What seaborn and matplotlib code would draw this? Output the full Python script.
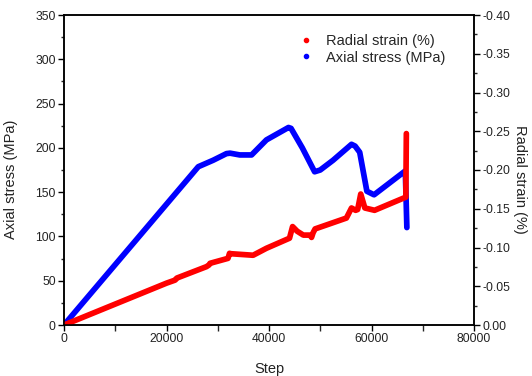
import matplotlib
matplotlib.use("Agg")
import matplotlib.pyplot as plt
import seaborn as sns
from matplotlib.lines import Line2D
from matplotlib.ticker import MultipleLocator, FormatStrFormatter

# axial stress (left axis)
stress_step = [0, 26200, 29100, 31700, 32400, 34300, 36600, 39500, 43800, 44300,
               46500, 48900, 50000, 52500, 56100, 56800, 57700, 59100, 60500,
               66600, 66900]
stress_mpa = [0, 178.7, 186, 193.5, 194, 192, 192, 209, 223, 222,
              200, 173, 175, 186, 204, 202, 195, 151, 147,
              174, 110]

# radial strain (right axis, negative values)
strain_step = [0, 20000, 21700, 22000, 27800, 28300, 28500, 32000, 32300, 32500,
               36900, 39500, 44000, 44600, 45500, 46700, 48000, 48300, 48600, 49000,
               55100, 56100, 56900, 57300, 57900, 58700, 60600, 66700, 66800]
strain_pct = [0, -0.054, -0.058, -0.0605, -0.0753, -0.0775, -0.0796, -0.086, -0.0925, -0.092,
              -0.090, -0.099, -0.112, -0.127, -0.121, -0.116, -0.116, -0.113, -0.119, -0.124,
              -0.138, -0.151, -0.148, -0.149, -0.169, -0.151, -0.148, -0.165, -0.247]

sns.set_style("ticks")
plt.rcParams["font.family"] = ["Liberation Sans", "DejaVu Sans"]
plt.rcParams["axes.unicode_minus"] = False

fig = plt.figure(figsize=(5.32, 3.76), dpi=100)
ax = fig.add_axes([64 / 532, 1 - 325 / 376, 410 / 532, 310 / 376])
ax2 = ax.twinx()

sns.lineplot(x=stress_step, y=stress_mpa, ax=ax, color="#0000ff", linewidth=4.1,
             legend=False, sort=False, estimator=None)
sns.lineplot(x=strain_step, y=strain_pct, ax=ax2, color="#ff0000", linewidth=4.1,
             legend=False, sort=False, estimator=None)
for ln in ax.lines + ax2.lines:
    ln.set_solid_capstyle("round")
    ln.set_solid_joinstyle("round")

ax.set_xlim(0, 80000)
ax.set_ylim(0, 350)
ax2.set_ylim(0, -0.40)

ax.xaxis.set_major_locator(MultipleLocator(20000))
ax.xaxis.set_minor_locator(MultipleLocator(10000))
ax.yaxis.set_major_locator(MultipleLocator(50))
ax.yaxis.set_minor_locator(MultipleLocator(25))
ax2.yaxis.set_major_locator(MultipleLocator(0.05))
ax2.yaxis.set_minor_locator(MultipleLocator(0.025))
ax2.yaxis.set_major_formatter(FormatStrFormatter("%.2f"))

for a in (ax, ax2):
    for s in a.spines.values():
        s.set_linewidth(1.1)
        s.set_color("black")
        s.set_visible(True)
    a.tick_params(which="major", length=4, width=1, labelsize=8.7, colors="black",
                  labelcolor="#222222", pad=2)
    a.tick_params(which="minor", length=2.5, width=1)
ax.tick_params(axis="x", which="minor", length=4)
ax.tick_params(top=False, which="both")

ax.set_xlabel("Step", fontsize=10.5, color="#222222")
ax.set_ylabel("Axial stress (MPa)", fontsize=10.5, color="#222222")
ax2.set_ylabel("Radial strain (%)", fontsize=10.5, color="#222222", rotation=270)
ax.xaxis.set_label_coords(0.5, -0.12)
ax.yaxis.set_label_coords(-0.112, 0.47)
ax2.yaxis.set_label_coords(1.13, 0.47)

handles = [Line2D([], [], color="#ff0000", marker="o", markersize=3, linestyle="none"),
           Line2D([], [], color="#0000ff", marker="o", markersize=3, linestyle="none")]
ax2.legend(handles, ["Radial strain (%)", "Axial stress (MPa)"], loc="upper left",
           bbox_to_anchor=(0.537, 0.98), frameon=False, fontsize=10.5,
           handlelength=1.2, handletextpad=0.8, labelspacing=0.15)

fig.savefig("out.png", dpi=100)
